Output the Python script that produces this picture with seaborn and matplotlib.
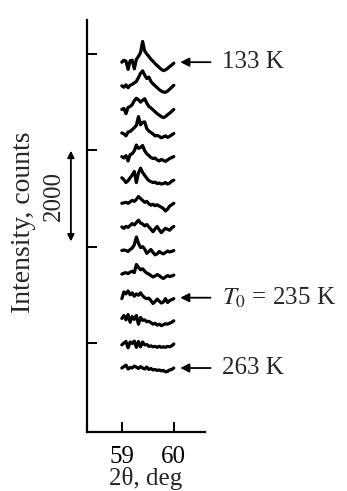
import pandas as pd
import matplotlib.pyplot as plt
import seaborn as sns

sns.set_theme(style="ticks")
plt.rcParams['font.family'] = ['Liberation Serif', 'DejaVu Serif']
plt.rcParams['mathtext.fontset'] = 'stix'

# 2theta grid (deg)
two_theta = [59.00, 59.04, 59.08, 59.12, 59.16, 59.20, 59.24, 59.28, 59.32, 59.36,
             59.40, 59.44, 59.48, 59.52, 59.56, 59.60, 59.64, 59.68, 59.72, 59.76,
             59.80, 59.84, 59.88, 59.92, 59.96, 60.00]

temperatures = [133, 143, 153, 163, 173, 183, 193, 203, 213, 223, 233, 243, 253, 263]

# vertical shift of each pattern (counts)
offsets = [7830, 7340, 6850, 6360, 5870, 5390, 4900, 4410, 3920, 3430, 2940, 2450, 1960, 1480]

# intensity relative to offset (counts)
profiles = [
    [0, 40, 20, -150, 30, 40, -140, 60, 120, 200, 430, 230, 170, 120, 60, 20, -30, -70, -110, -150, -175, -160, -130, -90, -60, -20],
    [0, -30, 20, -40, 10, 30, 60, 90, 170, 260, 310, 220, 150, 180, 90, 40, 0, -40, -80, -110, -130, -135, -110, -70, -30, 10],
    [0, 20, -90, 40, 60, 100, 180, 230, 200, 150, 190, 220, 130, 60, 30, -10, -50, -90, -120, -150, -170, -150, -110, -80, -40, 0],
    [0, -20, -60, 20, 30, 70, 110, 160, 340, 170, 220, 230, 90, 40, 10, -20, -60, -50, -70, -100, -80, -60, -90, -70, -40, -10],
    [0, -30, 20, -90, 40, 60, 120, 240, 170, 190, 230, 120, 60, 20, -20, -40, -30, -70, -90, -60, -80, -100, -70, -40, -20, 0],
    [40, 0, -60, -20, 40, 100, 170, -60, 140, 240, 150, 90, 30, -20, -40, -60, -50, -80, -70, -90, -80, -60, -90, -70, -30, -10],
    [0, 10, 20, 0, 30, 60, 40, 80, 140, 100, 60, 20, 40, -10, -40, -20, -50, -30, -60, -80, -110, -160, -120, -60, -30, 0],
    [0, -30, 10, -10, 30, 70, 40, 90, 140, 80, 60, 20, 50, 0, -50, -100, -40, 10, -60, -120, -70, -30, -50, -70, -20, 10],
    [0, 10, 0, -20, 20, 50, 120, 280, 150, 60, 80, 30, -60, -20, 20, -40, -90, -70, -20, -50, -70, -40, -10, -30, -20, 0],
    [0, 20, 30, 10, 40, 60, 30, 200, 140, 90, 110, 60, 20, 0, -30, -60, -40, -10, -30, -70, -90, -60, -30, -50, -40, -20],
    [-20, 120, 80, 140, 60, 100, 30, 80, 50, 100, 40, 0, -20, -10, -60, -120, -80, -30, -70, -110, -90, -20, -100, -60, -40, -20],
    [60, 120, 30, 140, -20, 100, 40, 120, -60, 80, 20, 30, -10, 0, -30, -60, -40, -80, -60, -90, -70, -50, -60, -40, -20, 10],
    [0, 40, 70, -60, 60, 30, 80, -50, 70, -40, 60, 0, 10, -30, -20, -40, -30, -50, -30, -50, -40, -50, -30, -40, -20, 20],
    [0, 30, 60, -20, 10, 0, 40, 20, -10, 30, 0, -20, 20, -30, -10, -40, -30, -50, -40, -60, -50, -80, -70, -40, -30, 0],
]

rows = []
for T, off, prof in zip(temperatures, offsets, profiles):
    for x, v in zip(two_theta, prof):
        rows.append({"two_theta": x, "intensity": off + v, "T": T})
df = pd.DataFrame(rows)

fig = plt.figure(figsize=(3.47, 4.91), dpi=100)
ax = fig.add_axes([0.2507, 0.1202, 0.3401, 0.8391])

sns.lineplot(data=df, x="two_theta", y="intensity", units="T", estimator=None,
             color="black", lw=2.3, ax=ax, legend=False)

ax.set_xlim(58.33, 60.6)
ax.set_ylim(152, 8706)
ax.set_xticks([59, 60])
ax.set_yticks([2000, 4000, 6000, 8000])
ax.set_yticklabels([])
ax.tick_params(direction="in", length=7, width=1.4, labelsize=18, colors="black")
ax.tick_params(axis="x", pad=10)
sns.despine(ax=ax)
for s in ("left", "bottom"):
    ax.spines[s].set_linewidth(1.6)
    ax.spines[s].set_color("black")
ax.set_xlabel(r"2θ, deg", fontsize=18)
ax.xaxis.set_label_coords(0.5, -0.085)
ax.set_ylabel("")

# temperature labels with arrows
labels = {0: "133 K", 10: r"$T_0$ = 235 K", 13: "263 K"}
for idx, txt in labels.items():
    y = offsets[idx]
    ax.annotate("", xy=(60.07, y), xytext=(60.76, y), annotation_clip=False,
                arrowprops=dict(arrowstyle="-|>", color="black", lw=1.3, mutation_scale=13))
    ax.text(60.92, y, txt, fontsize=18, va="center", ha="left", clip_on=False)

# scale bar
ax.annotate("", xy=(58.02, 4050), xytext=(58.02, 6050), annotation_clip=False,
            arrowprops=dict(arrowstyle="<|-|>", color="black", lw=1.3, mutation_scale=10))
ax.text(57.70, 5050, "2000", fontsize=18, rotation=90, va="center", ha="center", clip_on=False)
fig.text(0.069, 0.548, "Intensity, counts", fontsize=20, rotation=90, va="center", ha="center")

fig.savefig("out.png", dpi=100)
